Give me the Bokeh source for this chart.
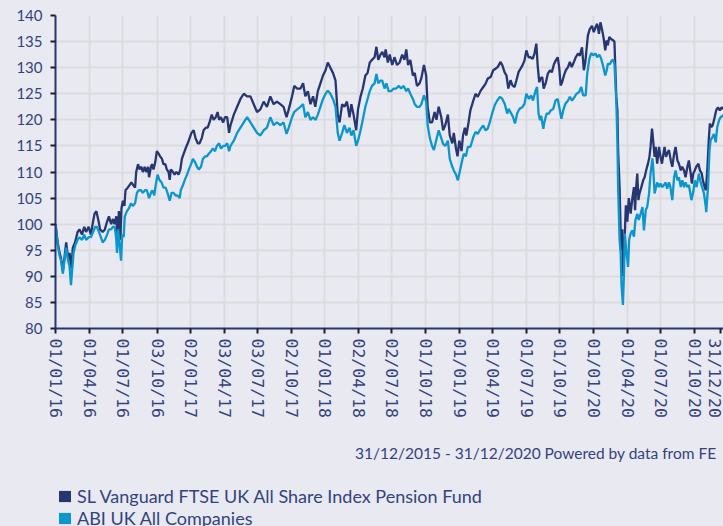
import pandas as pd
from bokeh.plotting import figure
from bokeh.layouts import column
from bokeh.models import FixedTicker, Range1d, Legend, LegendItem, Label
from bokeh.embed import file_html
from bokeh.resources import INLINE

START = pd.Timestamp("2016-01-01")

fund_name = "SL Vanguard FTSE UK All Share Index Pension Fund"
abi_name = "ABI UK All Companies"
footer_text = "31/12/2015 - 31/12/2020 Powered by data from FE"

# day offsets from 01/01/2016 and rebased values (start = 100)
fund_days = [0, 6, 11, 15, 20, 25, 29, 34, 38, 43, 47, 53, 60, 65, 72, 78, 83, 90, 96, 102, 106, 111, 117, 121, 128, 134, 140, 145, 151, 156, 160, 165, 169, 172, 176, 179, 183, 187, 190, 196, 201, 206, 211, 216, 219, 224, 228, 233, 237, 242, 246, 251, 254, 259, 262, 266, 271, 275, 280, 284, 289, 293, 298, 302, 307, 310, 313, 319, 323, 328, 334, 339, 343, 348, 353, 359, 364, 369, 375, 380, 386, 391, 397, 402, 408, 413, 418, 424, 429, 435, 440, 444, 449, 455, 460, 466, 471, 475,
             484, 493, 502, 511, 520, 529, 538, 547, 556, 565, 574, 583, 592, 601, 610, 619, 627, 633, 642, 648, 656, 665, 672, 678, 685, 692, 699, 705, 712, 719, 726, 733, 739, 746, 753, 760, 766, 771, 778, 784, 791, 798, 803, 809, 816, 821, 828, 834, 841, 847, 853, 859, 866, 871, 876, 882, 887, 893, 896, 902, 907, 914, 920, 927, 934, 941, 947, 952, 957, 963, 970, 975, 981, 988, 993, 1000, 1006, 1010, 1016, 1022, 1029, 1034, 1040, 1047, 1052, 1058, 1065, 1070, 1077, 1081, 1087, 1091, 1096, 1102, 1106, 1111, 1115, 1121,
             1126, 1134, 1140, 1146, 1154, 1161, 1167, 1173, 1181, 1188, 1194, 1200, 1208, 1213, 1219, 1224, 1229, 1235, 1240, 1246, 1251, 1257, 1262, 1267, 1273, 1278, 1284, 1289, 1295, 1300, 1305, 1309, 1313, 1316, 1321, 1325, 1331, 1336, 1342, 1347, 1353, 1358, 1363, 1367, 1371, 1375, 1380, 1385, 1391, 1396, 1401, 1407, 1412, 1418, 1423, 1429, 1434, 1438, 1441, 1445, 1450, 1456, 1461, 1466, 1470, 1475, 1479, 1484, 1488, 1492, 1496, 1499, 1503, 1508, 1514, 1517, 1522, 1525, 1527, 1531, 1534, 1536, 1538, 1541, 1544, 1548, 1552, 1556, 1561, 1565, 1570, 1573, 1576, 1579, 1582, 1585, 1590, 1595, 1599, 1603, 1608, 1612, 1615, 1619, 1622, 1626, 1629, 1633, 1638, 1642, 1646, 1650, 1653, 1657, 1660, 1665, 1670, 1674, 1679, 1683, 1688, 1692, 1697, 1701, 1706, 1710, 1715, 1719, 1724, 1727, 1731, 1735, 1739, 1745, 1749, 1754, 1757, 1762, 1765, 1769, 1773, 1776, 1780, 1784, 1789, 1793, 1798, 1803, 1808, 1813]
fund_vals = [100, 96.5, 94.5, 93.5, 91, 94, 96.5, 93.5, 94.5, 91.5, 95.5, 96.5, 98.5, 99, 98, 99.5, 98.5, 99.5, 98, 100.5, 102, 102.5, 100.5, 99, 98.5, 99, 100.5, 101.5, 100, 101, 100, 101.5, 96.5, 102.5, 97, 103, 104.5, 103.5, 106.5, 107, 107.5, 108, 107.5, 107, 110, 111.5, 110.5, 111, 110, 111, 110, 111, 109, 111, 111.5, 110.5, 112, 114, 113.5, 113, 112.5, 111.5, 111.5, 110.5, 110, 108.5, 110.5, 110, 109.5, 110, 109.5, 110.5, 112.5, 113.5, 114.5, 115.5, 116.5, 117.5, 118, 116.5, 115.5, 115.5, 116.5, 118, 118.5, 118.5, 119.5, 121, 120, 120.5, 121.5, 120, 120.5, 119.5, 120.5, 120.5, 117.5, 119,
             121, 122.5, 124, 125, 124.5, 124.5, 123, 121.5, 122, 123.5, 122.5, 124.5, 123, 123.5, 123, 122.5, 120.5, 122, 124.5, 126.5, 126, 126, 127, 124.5, 125.5, 123, 124.5, 122.5, 125.5, 127, 128.5, 129.5, 131, 130, 129, 127.5, 121, 119.5, 123, 122.5, 123.5, 120.5, 123, 121, 118, 122, 124.5, 126, 128.5, 129, 131, 131.5, 132, 134, 131.5, 132.5, 133, 132, 133.5, 131, 132.5, 130.5, 132, 130.5, 131, 132.5, 131.5, 133.5, 130.5, 131.5, 128.5, 129, 126.5, 127, 128, 130.5, 128.5, 122.5, 119.5, 119.5, 121.5, 120, 122.5, 120.5, 118, 119, 121, 117, 115.5, 117.5, 114.5, 113, 116, 114, 117, 118.5, 117, 119.5,
             121.8, 123.7, 125, 124.4, 125.6, 126.3, 126.9, 127.9, 128.2, 129.5, 129.8, 130.1, 131.1, 130.4, 129.1, 128.5, 126, 127.6, 126.6, 126.3, 127.6, 129.2, 129.8, 130.4, 131.4, 133.3, 132, 132, 131.7, 132.7, 134.6, 130.1, 127.2, 127.9, 128.2, 126, 127.2, 128.8, 129.5, 129.1, 130.7, 131.4, 132, 130.1, 126.6, 127.2, 128.5, 129.5, 130.1, 131.1, 130.1, 131.1, 132, 132.7, 132.3, 133.9, 129.5, 131.1, 133.3, 136.2, 137.4, 138, 136.8, 137.8, 138.4, 136.5, 138.7, 137.1, 135.5, 133.3, 135.2, 134.3, 135.9, 135.5, 135.2, 135, 124.4, 121.8, 114, 107, 98.2, 95, 99, 90, 96, 103.6, 100.5, 105, 102, 104.6, 107.1, 102.7, 107.1, 109.7, 104.6, 105.9, 107.1, 108.4, 109, 110.3, 111.6, 112.9, 114.8, 118.3, 116.1, 112.9, 114.8, 111.6, 114.8, 112.9, 111.6, 113.5, 114.8, 112.9, 113.5, 114.2, 112.2, 111, 113.5, 114.8, 112.2, 111.6, 110.3, 111, 110.3, 109, 111, 112.2, 109.7, 107.8, 109.7, 110.3, 111, 111.6, 110.3, 109.7, 108.4, 107.1, 106.5, 110.3, 116.1, 119.3, 118.6, 119, 120.5, 121.8, 122.4, 121.8, 122.4, 122.1]

abi_days = [0, 6, 11, 15, 20, 25, 29, 34, 38, 42, 45, 49, 54, 60, 65, 72, 78, 83, 90, 96, 102, 108, 112, 118, 123, 128, 134, 140, 145, 151, 156, 161, 165, 167, 170, 174, 178, 181, 185, 188, 194, 199, 205, 210, 216, 221, 226, 232, 237, 243, 248, 254, 259, 263, 268, 272, 277, 282, 288, 293, 299, 304, 310, 315, 320, 326, 331, 337, 340, 346, 351, 357, 362, 368, 373, 378, 384, 389, 395, 400, 406, 411, 416, 422, 427, 433, 438, 444, 449, 455, 460, 466, 471, 475,
            484, 493, 502, 511, 520, 529, 538, 547, 556, 565, 574, 583, 592, 601, 610, 619, 627, 633, 642, 648, 656, 665, 672, 678, 685, 692, 699, 706, 712, 719, 726, 733, 739, 746, 753, 760, 766, 771, 778, 784, 791, 798, 803, 809, 816, 821, 828, 834, 841, 847, 853, 859, 866, 871, 876, 882, 887, 893, 898, 904, 911, 918, 924, 932, 938, 945, 952, 957, 963, 970, 975, 981, 988, 993, 1000, 1006, 1010, 1016, 1022, 1027, 1033, 1040, 1047, 1052, 1058, 1065, 1070, 1077, 1081, 1087, 1092, 1097, 1103, 1108, 1114, 1119,
            1126, 1134, 1140, 1146, 1154, 1161, 1167, 1173, 1179, 1185, 1192, 1199, 1206, 1212, 1219, 1226, 1230, 1237, 1242, 1247, 1253, 1259, 1267, 1273, 1278, 1285, 1291, 1296, 1303, 1307, 1311, 1315, 1318, 1324, 1327, 1333, 1339, 1344, 1351, 1357, 1363, 1369, 1373, 1378, 1384, 1391, 1396, 1402, 1409, 1414, 1421, 1427, 1432, 1439, 1443, 1449, 1454, 1459, 1466, 1470, 1476, 1481, 1487, 1492, 1496, 1499, 1505, 1510, 1514, 1517, 1522, 1525, 1527, 1531, 1534, 1536, 1540, 1543, 1545, 1550, 1554, 1557, 1561, 1565, 1570, 1574, 1579, 1583, 1588, 1593, 1597, 1602, 1606, 1611, 1615, 1620, 1622, 1626, 1630, 1633, 1638, 1642, 1647, 1651, 1656, 1660, 1665, 1669, 1674, 1679, 1683, 1688, 1692, 1697, 1701, 1706, 1710, 1715, 1719, 1726, 1731, 1735, 1740, 1746, 1751, 1755, 1760, 1765, 1766, 1771, 1775, 1778, 1783, 1787, 1792, 1796, 1801, 1805, 1813]
abi_vals = [100, 96, 94, 93, 90.5, 93.5, 95.5, 93, 92, 88.3, 91, 94.5, 96, 97, 97.5, 97, 98, 97, 97.5, 97.5, 98.5, 99.5, 99.5, 98.5, 97.5, 96.5, 97, 98, 99, 99, 99.5, 99.5, 97, 94.5, 99, 96, 93, 98, 97.5, 101.5, 102.5, 103, 104, 103.5, 104, 106, 106.5, 106.5, 106, 106.5, 106.5, 105, 106, 106.5, 105.5, 107.5, 109.5, 108.5, 108, 107, 107, 106, 104.5, 106, 106, 105.5, 105.5, 105, 106.5, 107.5, 108.5, 109.5, 110.5, 111.5, 112.5, 112, 111, 110.5, 111, 112.5, 113, 113, 113.5, 114, 114.5, 114, 115, 115.5, 114.5, 115, 115, 115.5, 114, 115,
            116, 117.5, 118.5, 119.5, 120.5, 119.5, 118.5, 117.5, 117, 118, 118.5, 120.5, 119, 119.5, 119, 119.5, 117.3, 118.5, 120.5, 121.5, 122, 122.5, 123, 120.5, 121.5, 120, 120.5, 120, 121, 122.5, 124, 125, 125.6, 125, 124, 122.5, 117.5, 116, 117.5, 119, 117.5, 118.5, 117, 118, 115, 116, 118, 120, 122.5, 124, 125.5, 126.5, 127, 128.8, 127, 127.5, 127.5, 126, 127, 125.5, 125.5, 126, 126, 126.5, 126, 126.5, 125.5, 126, 125, 124, 123, 122.5, 122.5, 123, 124.7, 123.5, 119, 116.5, 115, 114.2, 116, 118, 116.5, 115.4, 115, 116, 112.5, 111, 110.3, 109.5, 108.4, 110, 112, 113.5, 113, 114.8,
            114.8, 116.7, 117.7, 117.3, 118.3, 118.9, 118, 118.3, 119.6, 121.2, 122.8, 123.7, 124.4, 124.1, 123.1, 121.2, 122.1, 121.2, 120.5, 119.3, 121.2, 122.1, 122.4, 123.1, 125, 124, 124.7, 123.7, 125.6, 126.3, 121.2, 119.9, 120.8, 118.3, 119.6, 121.2, 121.2, 121.8, 122.1, 123.7, 124, 121.8, 120.2, 121.8, 123.1, 123.7, 124.4, 123.7, 124.4, 125, 125.3, 126.3, 124.7, 124.7, 128.8, 131.7, 132.8, 132.4, 132.7, 132, 132.5, 131.7, 130.1, 128.5, 129.5, 130.7, 130.7, 131.4, 131.5, 130.7, 123.7, 116, 107, 97, 94.4, 88.6, 84.5, 90.5, 98.2, 94.4, 91.8, 97, 98.2, 98.8, 97.6, 100.8, 102, 100.8, 102, 103.3, 98.8, 102.7, 103.3, 105.9, 109.7, 112.6, 111, 105.9, 107.1, 108, 107.1, 107.8, 107.1, 107.5, 108, 106.8, 108, 107.1, 104.6, 109, 110.3, 108.4, 109, 107.1, 108.4, 107.1, 108, 107.1, 107.5, 104.6, 106.2, 108.4, 107.1, 109.7, 108, 107.1, 105.9, 103.3, 102.3, 107.1, 114.2, 116.1, 116.7, 117.3, 115.7, 118.6, 119.9, 120.5, 120.9]

tick_dates = ["2016-01-01", "2016-04-01", "2016-07-01", "2016-10-03", "2017-01-02", "2017-04-03",
              "2017-07-03", "2017-10-02", "2018-01-01", "2018-04-02", "2018-07-02", "2018-10-01",
              "2019-01-01", "2019-04-01", "2019-07-01", "2019-10-01", "2020-01-01", "2020-04-01",
              "2020-07-01", "2020-10-01", "2020-12-10"]
tick_labels = ["01/01/16", "01/04/16", "01/07/16", "03/10/16", "02/01/17", "03/04/17",
               "03/07/17", "02/10/17", "01/01/18", "02/04/18", "02/07/18", "01/10/18",
               "01/01/19", "01/04/19", "01/07/19", "01/10/19", "01/01/20", "01/04/20",
               "01/07/20", "01/10/20", "31/12/20"]
y_ticks = [80, 85, 90, 95, 100, 105, 110, 115, 120, 125, 130, 135, 140]

BG = "#e8e9f1"
GRID = "#dcdcde"
NAVY = "#253670"
LIGHT = "#0b96cc"
TXT = "#34437c"

tick_days = [(pd.Timestamp(d) - START).days for d in tick_dates]
x_end = (pd.Timestamp("2020-12-18") - START).days

p = figure(width=723, height=440, x_range=Range1d(0, x_end), y_range=Range1d(80, 140),
           output_backend="svg", toolbar_location=None,
           min_border_left=55, min_border_right=0, min_border_top=15, min_border_bottom=112)
p.background_fill_color = BG
p.border_fill_color = BG
p.outline_line_color = None

p.xaxis.ticker = FixedTicker(ticks=tick_days)
p.xaxis.major_label_overrides = {d: l for d, l in zip(tick_days, tick_labels)}
p.xaxis.major_label_orientation = "vertical"
p.xaxis.major_label_text_font = "DejaVu Sans Mono"
p.xaxis.major_label_text_font_size = "16.5px"
p.xaxis.major_label_standoff = 5
p.yaxis.ticker = FixedTicker(ticks=y_ticks)
p.yaxis.major_label_text_font = "Lato"
p.yaxis.major_label_text_font_size = "15px"
p.yaxis.major_label_standoff = 8
for ax in (p.xaxis, p.yaxis):
    ax.major_label_text_color = TXT
    ax.axis_line_color = NAVY
    ax.axis_line_width = 2
    ax.major_tick_line_color = "#1c1e2e"
    ax.major_tick_line_width = 2
    ax.major_tick_out = 5
    ax.major_tick_in = 0
    ax.minor_tick_line_color = None

p.xgrid.ticker = FixedTicker(ticks=tick_days[:-1])
p.ygrid.ticker = FixedTicker(ticks=y_ticks)
p.grid.grid_line_color = GRID
p.grid.grid_line_width = 2

p.line(fund_days, fund_vals, line_color=NAVY, line_width=2.3)
p.line(abi_days, abi_vals, line_color=LIGHT, line_width=2.3)

# footer + legend strip under the chart (swatch proxies sit outside the visible range)
lf = figure(width=723, height=86, x_range=Range1d(0, 1), y_range=Range1d(0, 1),
            output_backend="svg", toolbar_location=None, min_border=0,
            x_axis_location=None, y_axis_location=None)
lf.background_fill_color = BG
lf.border_fill_color = BG
lf.outline_line_color = None
lf.grid.visible = False
sw1 = lf.quad(left=[-3], right=[-2], top=[-2], bottom=[-3], fill_color=NAVY, line_color=None)
sw2 = lf.quad(left=[-3], right=[-2], top=[-2], bottom=[-3], fill_color=LIGHT, line_color=None)
leg = Legend(items=[LegendItem(label=fund_name, renderers=[sw1]),
                    LegendItem(label=abi_name, renderers=[sw2])],
             location=(2, -3), orientation="vertical",
             padding=0, margin=0, spacing=0, border_line_color=None,
             background_fill_alpha=0, glyph_width=15, glyph_height=14, label_standoff=5,
             label_text_font="Lato", label_text_font_size="18px", label_text_color=TXT)
lf.add_layout(leg)
lf.add_layout(Label(x=661, y=74, x_units="screen", y_units="screen", text=footer_text,
                    text_align="right", text_baseline="alphabetic", text_font="Lato",
                    text_font_size="15.5px", text_color=TXT))

layout = column(p, lf, spacing=0, styles={"background-color": BG})
open("out.html", "w").write(file_html(layout, INLINE))
